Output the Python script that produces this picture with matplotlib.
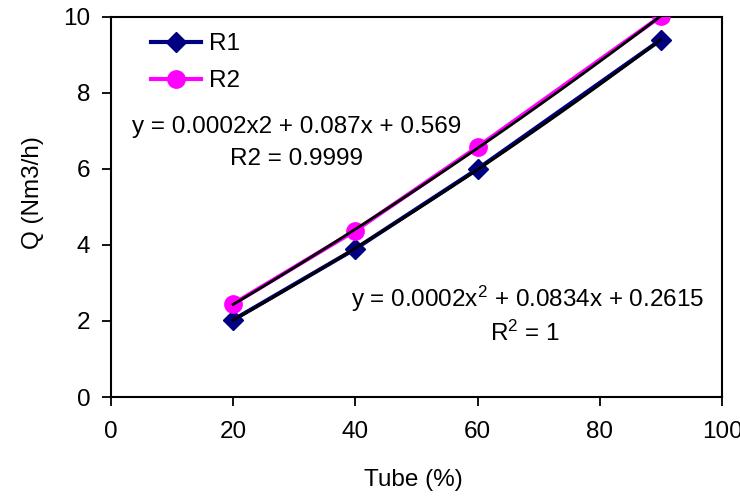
import numpy as np
import matplotlib
matplotlib.use("Agg")
import matplotlib.pyplot as plt

plt.rcParams['font.family'] = ['Liberation Sans', 'DejaVu Sans']

x_vals = [20, 40, 60, 90]
r1 = [2.03, 3.9, 6.0, 9.4]
r2 = [2.45, 4.38, 6.58, 10.02]

FS = 17.5

fig = plt.figure(figsize=(7.4, 4.99), dpi=100)
ax = fig.add_axes([0.15, 0.2044, 0.8257, 0.7616])

ax.plot(x_vals, r1, color='#000080', marker='D', markersize=10, lw=3, label='R1', zorder=3)
ax.plot(x_vals, r2, color='#FF00FF', marker='o', markersize=12.5, lw=3, label='R2', zorder=3)

xf = np.linspace(20, 90, 100)
for s in (r1, r2):
    c = np.polyfit(x_vals, s, 2)
    ax.plot(xf, np.polyval(c, xf), color='black', lw=2, zorder=4)

ax.set_xlim(0, 100)
ax.set_ylim(0, 10)
ax.set_xticks(range(0, 101, 20))
ax.set_yticks(range(0, 11, 2))
ax.tick_params(labelsize=FS, direction='out', length=6.5, width=1.3)
ax.tick_params(axis='x', pad=11)
ax.tick_params(axis='y', pad=8.5)
for sp in ax.spines.values():
    sp.set_linewidth(1.5)

ax.set_xlabel('Tube (%)', fontsize=FS)
ax.xaxis.set_label_coords(0.4955, -0.218)
ax.xaxis.label.set_va('center')
ax.set_ylabel('Q (Nm3/h)', fontsize=FS)
ax.yaxis.set_label_coords(-0.128, 0.537)
ax.yaxis.label.set_va('center')

leg = ax.legend(loc='upper left', bbox_to_anchor=(0.065, 0.957), frameon=False, fontsize=FS,
                handlelength=2.05, labelspacing=0.62, handletextpad=0.35,
                borderpad=0, borderaxespad=0)

ax.text(0.304, 0.71, 'y = 0.0002x2 + 0.087x + 0.569', transform=ax.transAxes,
        ha='center', va='center', fontsize=FS)
ax.text(0.304, 0.626, 'R2 = 0.9999', transform=ax.transAxes,
        ha='center', va='center', fontsize=FS)
ax.text(0.681, 0.258, r'y = 0.0002x$\mathregular{^2}$ + 0.0834x + 0.2615', transform=ax.transAxes,
        ha='center', va='center', fontsize=FS)
ax.text(0.678, 0.168, r'R$\mathregular{^2}$ = 1', transform=ax.transAxes,
        ha='center', va='center', fontsize=FS)

fig.savefig('out.png', dpi=100)
